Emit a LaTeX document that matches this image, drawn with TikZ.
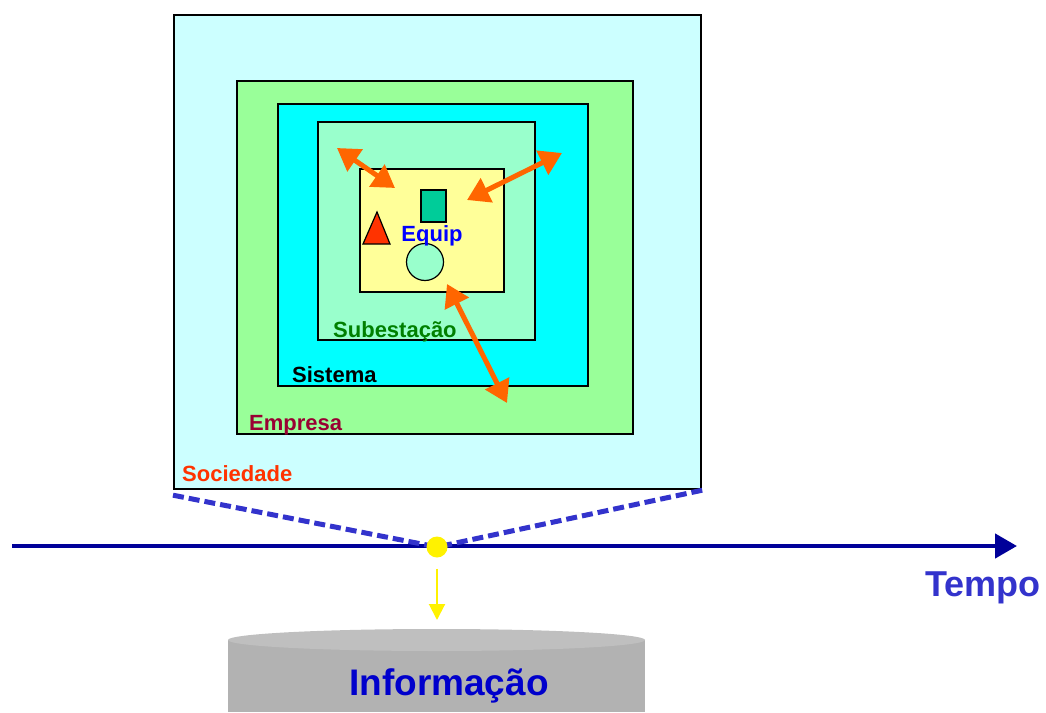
\documentclass[tikz,border=0pt]{standalone}
\usepackage{fontspec}
\setmainfont{Liberation Sans}
\usetikzlibrary{arrows.meta}
\definecolor{socfill}{HTML}{CCFFFF}
\definecolor{empfill}{HTML}{99FF99}
\definecolor{sisfill}{HTML}{00FFFF}
\definecolor{subfill}{HTML}{99FFCC}
\definecolor{eqfill}{HTML}{FFFF99}
\definecolor{teal1}{HTML}{00CC99}
\definecolor{redtri}{HTML}{FF3300}
\definecolor{arrorange}{HTML}{FF6600}
\definecolor{lineblue}{HTML}{000099}
\definecolor{dashblue}{HTML}{3333CC}
\definecolor{infoblue}{HTML}{0000CC}
\definecolor{empred}{HTML}{990033}
\definecolor{subgreen}{HTML}{008000}
\tikzset{
  box/.style={draw,line width=1.5pt,inner sep=0pt,anchor=north west},
  lbl/.style={font=\fontsize{22}{24}\selectfont\bfseries,anchor=base west,inner sep=0pt},
  orangearrow/.style={draw=arrorange,line width=5pt,{Triangle[length=22pt,width=26pt]}-{Triangle[length=22pt,width=26pt]}},
  dashline/.style={dashblue,line width=5pt,dash pattern=on 11pt off 5pt}
}
\begin{document}
\begin{tikzpicture}[x=1pt,y=-1pt]
    \useasboundingbox (0,0) rectangle (1046,712);

    % nested boxes
    \node[box,fill=socfill,line width=2.2pt,minimum width=527pt,minimum height=474pt] (soc) at (173,14){};
    \node[box,fill=empfill,minimum width=396pt,minimum height=353pt] (emp) at (236,80){};
    \node[box,fill=sisfill,minimum width=310pt,minimum height=282pt] (sis) at (277,103){};
    \node[box,fill=subfill,minimum width=217pt,minimum height=218pt] (sub) at (317,121){};
    \node[box,fill=eqfill,minimum width=144pt,minimum height=123pt] (eq) at (359,168){};

    \node[lbl,text=redtri] (soclbl) at (182,481){Sociedade};
    \node[lbl,text=empred] (emplbl) at (249,430){Empresa};
    \node[lbl,text=black] (sislbl) at (292,382){Sistema};
    \node[lbl,text=subgreen] (sublbl) at (333,337){Subestação};

    % equipment
    \node[draw,fill=teal1,line width=1.2pt,minimum width=25pt,minimum height=32pt,inner sep=0pt] (sq) at (433.5,206){};
    \draw[fill=redtri,line width=1.2pt] (377,212) -- (390,244) -- (363,244) -- cycle;
    \node[draw,fill=subfill,circle,line width=1.2pt,minimum size=37pt,inner sep=0pt] (circ) at (425,262){};
    \node[font=\fontsize{22}{24}\selectfont\bfseries,text=blue,anchor=base,inner sep=0pt] (equip) at (432,241){Equip};

    \coordinate (a1) at (337,148);
    \coordinate (a2) at (395,188);
    \coordinate (b1) at (562,153);
    \coordinate (b2) at (467,200);
    \coordinate (c1) at (447,284);
    \coordinate (c2) at (507,403);
    \draw[orangearrow] (a1) -- (a2);
    \draw[orangearrow] (b1) -- (b2);
    \draw[orangearrow] (c1) -- (c2);

    % time line
    \coordinate (t0) at (12,546);
    \coordinate (t1) at (1017,546);
    \draw[lineblue,line width=4.5pt,-{Triangle[length=22pt,width=24pt]}] (t0) -- (t1);
    \node[font=\fontsize{36}{38}\selectfont\bfseries,text=dashblue,anchor=base,inner sep=0pt] (tempo) at (983,596){Tempo};

    \coordinate (now) at (437,547);
    \draw[dashline] (soc.south west) ++(0,5) -- (now);
    \draw[dashline] (soc.south east) -- (now);
    \node[fill=yellow,circle,minimum size=21pt,inner sep=0pt] (dot) at (now){};

    % database
    \fill[black!30] (228,640) rectangle (645,712);
    \fill[black!25] (436.5,640) ellipse [x radius=208.5, y radius=11];
    \coordinate (infotop) at (437,620);
    \draw[yellow,line width=2pt,-{Triangle[length=16pt,width=16pt]}] (dot.south) ++(0,11) -- (infotop);
    \node[font=\fontsize{37}{40}\selectfont\bfseries,text=infoblue,anchor=base,inner sep=0pt] (info) at (449,695){Informação};
\end{tikzpicture}
\end{document}
